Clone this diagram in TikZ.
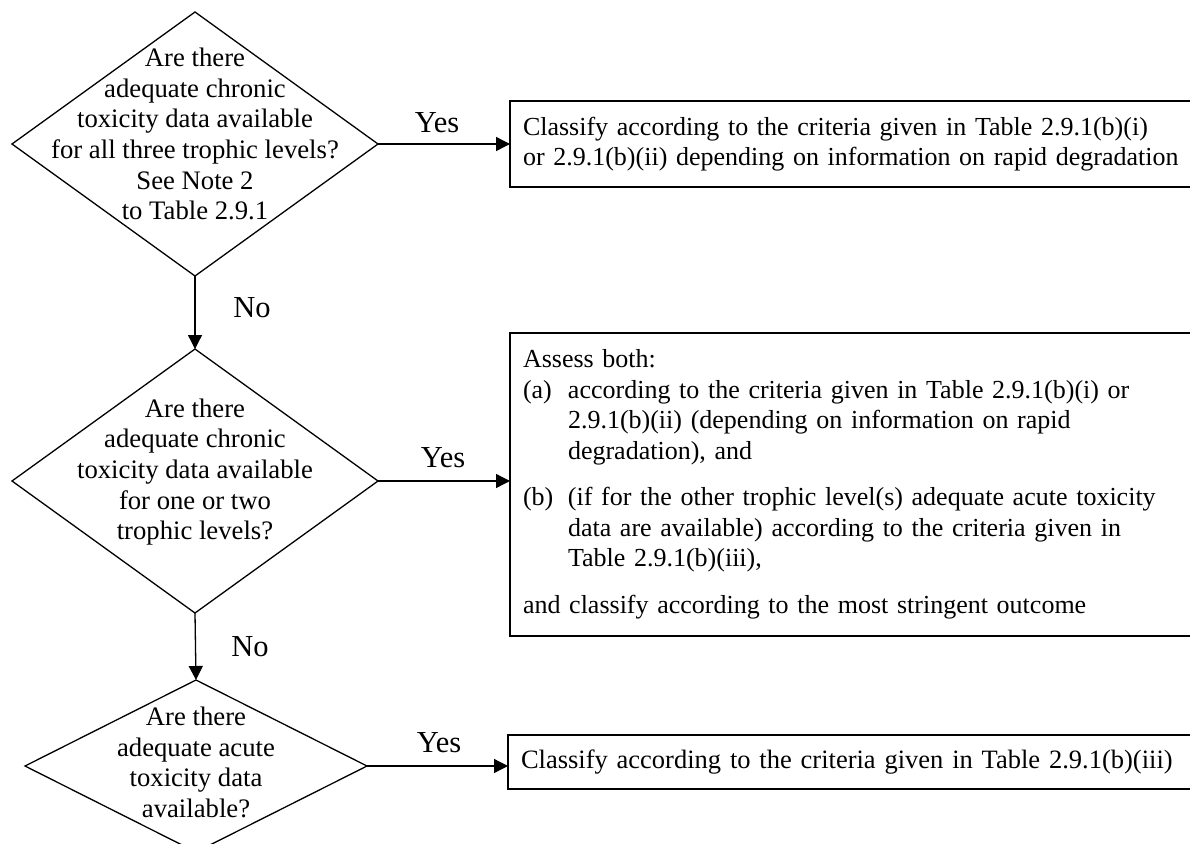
\documentclass[tikz,border=0pt]{standalone}
\usepackage{fontspec}
\setmainfont{Liberation Serif}
\usetikzlibrary{shapes.geometric,arrows.meta}
\tikzset{
  dia/.style={draw, diamond, line width=1.3pt, inner sep=0pt, outer sep=0pt},
  dtext/.style={align=center, inner sep=0pt, font=\fontsize{26.7}{30.7}\selectfont},
  box/.style={draw, rectangle, line width=1.3pt, outer sep=0pt, inner xsep=13pt, inner ysep=0pt,
    anchor=north west, font=\fontsize{26.0}{30.5}\selectfont},
  lbl/.style={inner sep=0pt, font=\fontsize{30.5}{34}\selectfont},
  arr/.style={line width=1.3pt, -{Triangle[length=14pt,width=14pt]}}
}
\newcommand{\lnbrk}{\hfil\break}
\begin{document}
\begin{tikzpicture}[x=1pt,y=-1pt]
\useasboundingbox (0,0) rectangle (1190,843);
% diamonds
\node[dia, minimum width=366pt, minimum height=264pt] (d1) at (195,144) {};
\node[dtext] (t1) at (195,134) {Are there\\adequate chronic\\toxicity data available\\for all three trophic levels?\\See Note 2\\to Table 2.9.1};
\node[dia, minimum width=366pt, minimum height=264pt] (d2) at (195,481) {};
\node[dtext] (t2) at (195,472) {Are there\\adequate chronic\\toxicity data available\\for one or two\\trophic levels?};
\node[dia, minimum width=342pt, minimum height=172pt] (d3) at (196,766) {};
\node[dtext] (t3) at (196,762.5) {Are there\\adequate acute\\toxicity data\\available?};
% boxes (right edges lie beyond the page, as in the reference)
\node[box, minimum height=86pt, text width=720pt] (b1) at (510,101)
  {\raggedright Classify according to the criteria given in Table 2.9.1(b)(i)\lnbrk or 2.9.1(b)(ii) depending on information on rapid degradation};
\node[box, minimum height=303pt, text width=720pt] (b2) at (510,333)
  {\raggedright Assess both:\par
   \hangindent=45pt\hangafter=1\noindent\makebox[45pt][l]{(a)}according to the criteria given in Table 2.9.1(b)(i) or\lnbrk 2.9.1(b)(ii) (depending on information on rapid\lnbrk degradation), and\par
   \vspace{16pt}
   \hangindent=45pt\hangafter=1\noindent\makebox[45pt][l]{(b)}(if for the other trophic level(s) adequate acute toxicity\lnbrk data are available) according to the criteria given in\lnbrk Table 2.9.1(b)(iii),\par
   \vspace{16pt}
   \noindent and classify according to the most stringent outcome};
\node[box, minimum height=54pt, text width=720pt, font=\fontsize{26.5}{30.5}\selectfont] (b3) at (508,735)
  {\raggedright Classify according to the criteria given in Table 2.9.1(b)(iii)};
% connectors
\draw[arr] (d1.east) -- (d1.east -| b1.west);
\draw[arr] (d2.east) -- (d2.east -| b2.west);
\draw[arr] (d3.east) -- (d3.east -| b3.west);
\draw[arr] (d1.south) -- (d2.north);
\draw[arr] (d2.south) -- (d3.north);
% labels
\node[lbl] (y1) at (437,122.5) {Yes};
\node[lbl] (n1) at (252,308) {No};
\node[lbl] (y2) at (443,458) {Yes};
\node[lbl] (n2) at (250,647) {No};
\node[lbl] (y3) at (439,743) {Yes};
\end{tikzpicture}
\end{document}
